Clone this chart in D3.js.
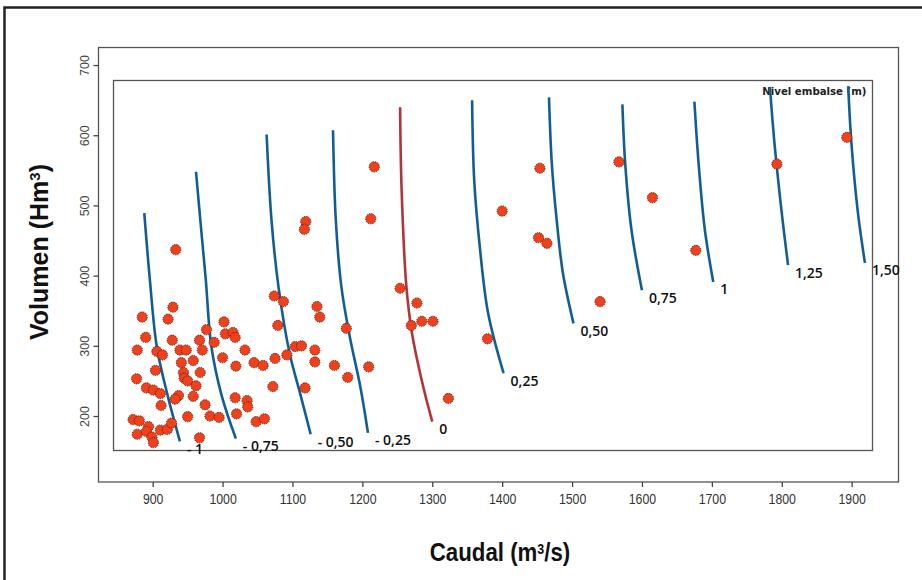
<!DOCTYPE html>
<html>
<head>
<meta charset="utf-8">
<script src="https://cdn.jsdelivr.net/npm/d3@7"></script>
<style>
  html, body { margin: 0; padding: 0; background: #fff; }
  svg { display: block; }
</style>
</head>
<body>
<svg id="chart" width="922" height="580"></svg>
<script>
// Observaciones: caudal (m3/s) y volumen embalsado (Hm3)
const caudal = [
  933, 885, 929, 922, 890, 928, 878, 906, 914, 939, 948, 977, 967, 971, 988,
  1002, 1004, 1015, 1018, 941, 958, 904, 944, 945, 950, 968, 962, 877, 891, 901,
  911, 937, 932, 958, 912, 975, 1000, 1032, 1019, 1045, 1058, 1018, 1035, 1036, 982,
  995, 1020, 950, 1048, 1060, 1072, 1074, 1087, 1079, 1075, 1092, 1104, 872, 881, 894,
  878, 891, 899, 901, 911, 921, 927, 967,
  1217, 1212, 1119, 1117, 1135, 1139, 1177, 1254, 1278, 1270, 1285, 1301, 1379, 1113, 1132,
  1132, 1160, 1209, 1179, 1118, 1323,
  1454, 1400, 1452, 1464, 1540, 1567, 1615, 1677, 1793, 1893
];
const volumen = [
  437, 341, 355, 338, 312, 308, 294, 292, 287, 294, 294, 323, 308, 294, 305,
  334, 317, 319, 312, 276, 279, 265, 262, 254, 250, 262, 243, 253, 240, 237,
  232, 229, 224, 228, 215, 216, 283, 294, 271, 276, 272, 226, 222, 213, 200,
  198, 203, 199, 192, 196, 242, 371, 363, 329, 282, 287, 299, 195, 193, 185,
  174, 178, 170, 162, 180, 181, 190, 169,
  555, 481, 477, 466, 356, 341, 325, 382, 361, 329, 335, 335, 310, 300, 294,
  277, 272, 270, 255, 240, 225,
  553, 492, 454, 446, 363, 562, 511, 436, 559, 597
];

// Isolíneas de nivel de embalse: [caudal, volumen] a lo largo de cada curva
const nivelEtiquetas = ["- 1", "- 0,75", "- 0,50", "- 0,25", "0", "0,25", "0,50", "0,75", "1", "1,25", "1,50"];
const isolineas = [
  [[888, 489], [896, 394], [906, 298], [922, 227], [939, 164]],
  [[962, 548], [969, 470], [976, 394], [984, 299], [999, 228], [1019, 168]],
  [[1063, 601], [1070, 479], [1080, 384], [1096, 289], [1111, 232], [1126, 174]],
  [[1158, 607], [1162, 479], [1170, 384], [1182, 313], [1197, 242], [1208, 176]],
  [[1254, 640], [1256, 527], [1263, 384], [1271, 318], [1287, 242], [1300, 192]],
  [[1357, 650], [1360, 536], [1368, 441], [1380, 346], [1402, 261]],
  [[1467, 654], [1471, 560], [1478, 479], [1487, 403], [1502, 332]],
  [[1572, 644], [1576, 560], [1585, 465], [1600, 379]],
  [[1675, 648], [1681, 560], [1690, 465], [1702, 391]],
  [[1783, 669], [1790, 584], [1800, 489], [1809, 415]],
  [[1895, 670], [1900, 584], [1909, 489], [1919, 418]]
];
const nivelReferencia = "0";

const xTicks = [900, 1000, 1100, 1200, 1300, 1400, 1500, 1600, 1700, 1800, 1900];
const yTicks = [200, 300, 400, 500, 600, 700];

const svg = d3.select("#chart");

// Marco de la figura
svg.append("rect")
  .attr("x", 4.5).attr("y", 7.5)
  .attr("width", 940).attr("height", 600)
  .attr("fill", "none").attr("stroke", "#222").attr("stroke-width", 2.5);

// Caja de ejes
const outer = { left: 98.5, right: 898.5, top: 47.5, bottom: 482 };
const x = d3.scaleLinear().domain([822.5, 1967]).range([outer.left, outer.right]);
const y = d3.scaleLinear().domain([106, 725]).range([outer.bottom, outer.top]);

svg.append("rect")
  .attr("x", outer.left).attr("y", outer.top)
  .attr("width", outer.right - outer.left).attr("height", outer.bottom - outer.top)
  .attr("fill", "none").attr("stroke", "#555").attr("stroke-width", 1.3);

// Ejes
const xAxis = svg.append("g")
  .attr("transform", `translate(0,${outer.bottom})`)
  .call(d3.axisBottom(x).tickValues(xTicks).tickSize(5).tickPadding(7).tickFormat(d3.format("d")));
xAxis.select(".domain").remove();
xAxis.selectAll(".tick line").attr("stroke", "#444").attr("stroke-width", 1.3);
xAxis.selectAll(".tick text")
  .attr("fill", "#333")
  .attr("transform", "scale(0.88,1)")
  .style("font-family", "'Liberation Sans', Arial, sans-serif")
  .style("font-size", "14px");

const yAxis = svg.append("g")
  .attr("transform", `translate(${outer.left},0)`)
  .call(d3.axisLeft(y).tickValues(yTicks).tickSize(5).tickFormat(d3.format("d")));
yAxis.select(".domain").remove();
yAxis.selectAll(".tick line").attr("stroke", "#444").attr("stroke-width", 1.3);
yAxis.selectAll(".tick text")
  .attr("fill", "#444")
  .attr("x", null).attr("dy", null)
  .attr("text-anchor", "middle")
  .attr("dominant-baseline", "central")
  .attr("transform", "translate(-14,0) rotate(-90)")
  .style("font-family", "'Liberation Sans', Arial, sans-serif")
  .style("font-size", "12.5px");

// Área de trazado interior
const plot = { left: 113.5, right: 872.5, top: 80.5, bottom: 450.5 };
svg.append("rect")
  .attr("x", plot.left).attr("y", plot.top)
  .attr("width", plot.right - plot.left).attr("height", plot.bottom - plot.top)
  .attr("fill", "none").attr("stroke", "#555").attr("stroke-width", 1.3);

svg.append("text")
  .attr("x", plot.right - 6).attr("y", plot.top + 14)
  .attr("text-anchor", "end")
  .attr("fill", "#222")
  .style("font-family", "'DejaVu Sans', sans-serif")
  .style("font-weight", "bold")
  .style("font-size", "10.2px")
  .text("Nivel embalse (m)");

// Isolíneas
const line = d3.line()
  .x(d => x(d[0]))
  .y(d => y(d[1]))
  .curve(d3.curveCatmullRom.alpha(0.5));

svg.append("g").selectAll("path")
  .data(isolineas)
  .join("path")
  .attr("d", line)
  .attr("fill", "none")
  .attr("stroke", (d, i) => nivelEtiquetas[i] === nivelReferencia ? "#b3333a" : "#125e94")
  .attr("stroke-width", 2.6)
  .attr("stroke-linecap", "butt");

svg.append("g").selectAll("text")
  .data(isolineas)
  .join("text")
  .attr("x", d => x(d[d.length - 1][0]) + 7)
  .attr("y", d => y(d[d.length - 1][1]) + 7)
  .attr("dominant-baseline", "central")
  .attr("fill", "#111")
  .style("font-family", "'Open Sans', sans-serif")
  .style("font-weight", "600")
  .style("font-size", "14px")
  .text((d, i) => nivelEtiquetas[i]);

// Observaciones
svg.append("g").selectAll("circle")
  .data(caudal)
  .join("circle")
  .attr("cx", d => x(d))
  .attr("cy", (d, i) => y(volumen[i]))
  .attr("r", 5.1)
  .attr("fill", "#f0401c")
  .attr("stroke", "#5e1a0a")
  .attr("stroke-width", 1)
  .attr("stroke-dasharray", "1.3,1.1");

// Títulos de ejes
svg.append("text")
  .attr("transform", "translate(48,252) rotate(-90)")
  .attr("text-anchor", "middle")
  .attr("fill", "#111")
  .style("font-family", "'Liberation Sans', Arial, sans-serif")
  .style("font-weight", "bold")
  .style("font-size", "25px")
  .html("Volumen (Hm<tspan baseline-shift='super' font-size='15px'>3</tspan>)");

svg.append("text")
  .attr("transform", "translate(500,561) scale(0.89,1)")
  .attr("text-anchor", "middle")
  .attr("fill", "#111")
  .style("font-family", "'Liberation Sans', Arial, sans-serif")
  .style("font-weight", "bold")
  .style("font-size", "25px")
  .html("Caudal (m<tspan baseline-shift='super' font-size='14px'>3</tspan>/s)");
</script>
</body>
</html>
